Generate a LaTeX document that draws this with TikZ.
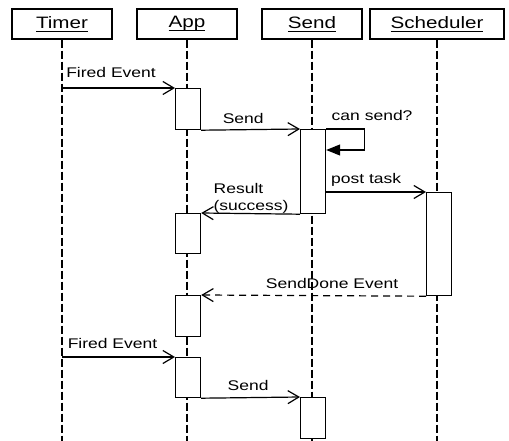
\documentclass[tikz,border=0pt]{standalone}
\usepackage{fontspec}
\setmainfont{Liberation Sans}[FakeStretch=1.25]
\usetikzlibrary{arrows.meta,calc}
\newcommand{\objfont}{\fontsize{16.5}{19}\selectfont}
\newcommand{\msgfont}{\fontsize{14}{17}\selectfont}
% underline at a fixed depth, so descenders do not push it down
\newcommand{\objname}[1]{\setbox0\hbox{#1}\rlap{\rule[-2.5pt]{\wd0}{0.7pt}}\box0}

\begin{document}
\begin{tikzpicture}[x=1pt,y=-1pt,line width=1.2pt,
	>={Straight Barb[length=11pt,width=13pt]},
	obj/.style={draw,minimum width=100pt,minimum height=30pt,inner sep=0,font=\objfont},
	act/.style={draw,fill=white,anchor=north west,minimum width=25pt,inner sep=0},
	life/.style={dash pattern=on 8pt off 3pt},
	msg/.style={->},
	ret/.style={->,dash pattern=on 7pt off 5pt},
	lbl/.style={inner sep=0,anchor=base,font=\msgfont}]
	\useasboundingbox (0,0) rectangle (509,441);
	\coordinate (bottom) at (0,441);
	% objects
	\node[obj] (timer) at (62,24) {\objname{Timer}};
	\node[obj] (app) at (187,24) {\objname{App}};
	\node[obj] (send) at (312,24) {\objname{Send}};
	\node[obj, minimum width=134pt] (sched) at (437,24) {\objname{Scheduler}};
	% lifelines
	\foreach \o in {timer,app,send,sched}
		\draw[life] (\o.south) -- (\o.south |- bottom);
	% activations
	\node[act, minimum height=41pt] (a1) at (175,88) {};
	\node[act, minimum height=40pt] (a2) at (175,213) {};
	\node[act, minimum height=41pt] (a3) at (175,295) {};
	\node[act, minimum height=40pt] (a4) at (175,357) {};
	\node[act, minimum height=84pt] (s1) at (300,129) {};
	\node[act, minimum height=41pt] (s2) at (300,397) {};
	\node[act, minimum height=103pt] (k1) at (426,192) {};
	% messages
	\path (a1.north west -| timer.south) edge[msg] node[lbl, pos=.434, yshift=10pt] {Fired Event} (a1.north west);
	\path (a1.south east) edge[msg] node[lbl, pos=.425, yshift=6pt] {Send} (s1.north west);
	\draw[-{Triangle[length=14pt,width=11pt]}] (s1.north east)
		-- node[lbl, anchor=base west, pos=.13, yshift=8pt] {can send?} ++(38,0)
		-- ++(0,21) -- ++(-38,0);
	\path (k1.north west -| s1.east) edge[msg] node[lbl, pos=.40, yshift=9pt] {post task} (k1.north west);
	\path (s1.south west) edge[msg] node[lbl, anchor=south, align=left, pos=.495] {Result\\(success)} (a2.north east);
	\path (k1.south west) edge[ret] node[lbl, pos=.418, yshift=7pt] {SendDone Event} (a3.north east);
	\path (a4.north west -| timer.south) edge[msg] node[lbl, pos=.447, yshift=9pt] {Fired Event} (a4.north west);
	\path (a4.south east) edge[msg] node[lbl, pos=.475, yshift=7pt] {Send} (s2.north west);
\end{tikzpicture}
\end{document}
